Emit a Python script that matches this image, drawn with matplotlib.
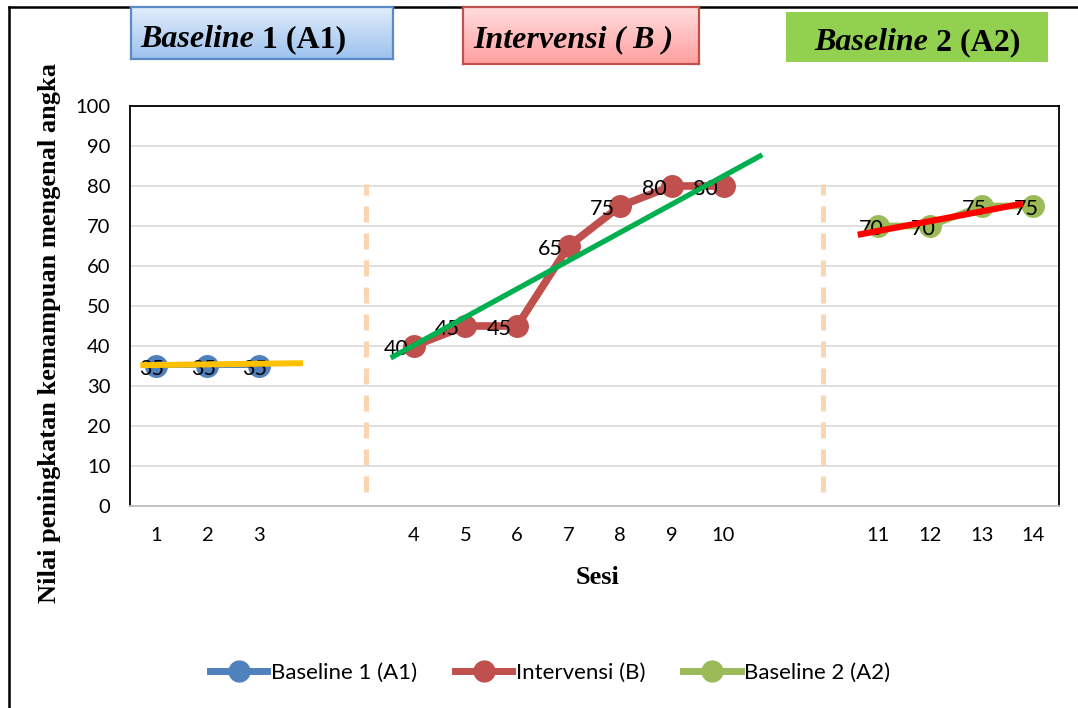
import numpy as np
import matplotlib
matplotlib.use("Agg")
import matplotlib.pyplot as plt
from matplotlib.lines import Line2D

# ---------------- data ----------------
categories = ["1", "2", "3", "", "", "4", "5", "6", "7", "8", "9", "10",
              "", "", "11", "12", "13", "14"]
nan = np.nan
baseline1 = [35, 35, 35, nan, nan, nan, nan, nan, nan, nan, nan, nan,
             nan, nan, nan, nan, nan, nan]
intervensi = [nan, nan, nan, nan, nan, 40, 45, 45, 65, 75, 80, 80,
              nan, nan, nan, nan, nan, nan]
baseline2 = [nan, nan, nan, nan, nan, nan, nan, nan, nan, nan, nan, nan,
             nan, nan, 70, 70, 75, 75]

series_names = ["Baseline 1 (A1)", "Intervensi (B)", "Baseline 2 (A2)"]

# trend lines: (x start, x end) in category positions, (level start, level end)
trend_a1_x, trend_a1_y = [-0.3, 2.85], [35.2, 35.7]
trend_b_x, trend_b_y = [4.55, 11.75], [37.0, 87.8]
trend_a2_x, trend_a2_y = [13.6, 16.8], [67.8, 75.6]

# phase separators (category position) and their vertical extent
phase_breaks = [4.07, 12.93]
phase_break_range = [3.5, 80.5]

yticks = list(range(0, 101, 10))

# ---------------- style ----------------
LABEL_FONT = ["Lato", "DejaVu Sans"]
SERIF = ["Liberation Serif", "DejaVu Serif"]
c_blue, c_red, c_green = "#4f81bd", "#c0504d", "#9bbb59"

W, H = 1078, 708
fig = plt.figure(figsize=(W / 100, H / 100), dpi=100)
fig.patch.set_facecolor("white")

ax = fig.add_axes([130 / W, 1 - 506 / H, 929 / W, 400 / H])
x = np.arange(len(categories))

# series
ax.plot(x, baseline1, color=c_blue, lw=2.8, marker="o", ms=15.5,
        label=series_names[0], zorder=3)
ax.plot(x, intervensi, color=c_red, lw=5.5, marker="o", ms=15.5,
        label=series_names[1], zorder=3)
ax.plot(x, baseline2, color=c_green, lw=4.8, marker="o", ms=15.5,
        label=series_names[2], zorder=3)

# value labels, placed to the left of each point
for vals, dx in ((baseline1, -4), (intervensi, -18), (baseline2, -7)):
    for xi, v in zip(x, vals):
        if np.isnan(v):
            continue
        ax.annotate(f"{v:g}", (xi, v), xytext=(dx * 0.72, -2.5),
                    textcoords="offset points", ha="center", va="center",
                    fontsize=15.5, family=LABEL_FONT, color="black", zorder=4)

# trend lines
ax.plot(trend_a1_x, trend_a1_y, color="#ffc000", lw=4.3, zorder=5,
        solid_capstyle="butt")
ax.plot(trend_b_x, trend_b_y, color="#00b050", lw=3.8, zorder=5,
        solid_capstyle="butt")
ax.plot(trend_a2_x, trend_a2_y, color="#ff0000", lw=4.5, zorder=5,
        solid_capstyle="butt")

# phase separators
for xb in phase_breaks:
    ax.plot([xb, xb], phase_break_range, color="#fbd4b4", lw=3.6,
            dashes=(3.2, 2.2), zorder=2, solid_capstyle="butt")

# axes
ax.set_xlim(-0.5, len(categories) - 0.5)
ax.set_ylim(0, 100)
ax.set_yticks(yticks)
ax.set_xticks(x)
ax.set_xticklabels(categories)
ax.grid(axis="y", color="#d9d9d9", lw=1.2, zorder=0)
ax.set_axisbelow(True)
ax.tick_params(length=0, labelsize=14.5)
ax.tick_params(axis="x", pad=15)
ax.tick_params(axis="y", pad=14)
for lab in ax.get_xticklabels() + ax.get_yticklabels():
    lab.set_family(LABEL_FONT)
for side in ("left", "top", "right"):
    ax.spines[side].set_color("black")
    ax.spines[side].set_linewidth(1.3)
ax.spines["bottom"].set_color("#bfbfbf")
ax.spines["bottom"].set_linewidth(1.3)

fig.text(598 / W, 1 - 577 / H, "Sesi", ha="center", va="center",
         fontsize=19, fontweight="bold", family=SERIF)
fig.text(50 / W, 1 - 333 / H, "Nilai peningkatan kemampuan mengenal angka",
         ha="center", va="center", rotation=90, fontsize=19,
         fontweight="bold", family=SERIF)

# legend
handles = [Line2D([], [], color=c, lw=5, marker="o", ms=15)
           for c in (c_blue, c_red, c_green)]
fig.legend(handles, series_names, loc="center", bbox_to_anchor=(550 / W, 1 - 673 / H),
           ncol=3, frameon=False, handlelength=2.6, handletextpad=0.15,
           columnspacing=1.7, prop={"family": LABEL_FONT, "size": 16})

# outer frame (top and left edges)
fig.add_artist(Line2D([9 / W, 9 / W], [0, 1 - 7 / H], color="black", lw=1.8,
                      transform=fig.transFigure))
fig.add_artist(Line2D([9 / W, 1], [1 - 7 / H, 1 - 7 / H], color="black", lw=1.8,
                      transform=fig.transFigure))


# phase header boxes
def header(box, top_col, bot_col, edge, parts, text_x=None):
    l, t, r, b = box
    hax = fig.add_axes([l / W, 1 - b / H, (r - l) / W, (b - t) / H], zorder=10)
    grad = np.linspace(0, 1, 64)[:, None]
    c0 = np.array(matplotlib.colors.to_rgb(top_col))
    c1 = np.array(matplotlib.colors.to_rgb(bot_col))
    img = c0[None, None, :] * (1 - grad[..., None]) + c1[None, None, :] * grad[..., None]
    hax.imshow(img, aspect="auto", extent=(0, 1, 0, 1), origin="upper")
    hax.set_xlim(0, 1)
    hax.set_ylim(0, 1)
    hax.set_xticks([])
    hax.set_yticks([])
    for s in hax.spines.values():
        if edge is None:
            s.set_visible(False)
        else:
            s.set_color(edge)
            s.set_linewidth(1.6)
    return hax, parts, text_x, box


headers = [
    header((131, 7, 393, 59), "#e0ecfa", "#9dc2ef", "#5a8ac6",
           [("Baseline", "italic"), (" 1 (A1)", "normal")], 140),
    header((463, 7, 699, 64), "#ffdede", "#ff9f9f", "#c0504d",
           [("Intervensi ( B )", "italic")], 473),
    header((786, 12, 1048, 62), "#92d050", "#92d050", None,
           [("Baseline", "italic"), (" 2 (A2)", "normal")], None),
]

fig.canvas.draw()
renderer = fig.canvas.get_renderer()
for hax, parts, text_x, box, base in zip(*zip(*headers), (47, 47, 50)):
    l, t, r, b = box
    baseline_y = 1 - base / H
    texts = []
    for s, style in parts:
        tx = fig.text(0, baseline_y, s, fontsize=23, fontweight="bold",
                      style=style, family=SERIF, ha="left", va="baseline",
                      zorder=11)
        texts.append(tx)
    widths = [tx.get_window_extent(renderer).width for tx in texts]
    total = sum(widths)
    start = text_x if text_x is not None else (l + r) / 2 - total / 2
    pos = start
    for tx, w in zip(texts, widths):
        tx.set_x(pos / W)
        pos += w

fig.savefig("out.png", dpi=100)
